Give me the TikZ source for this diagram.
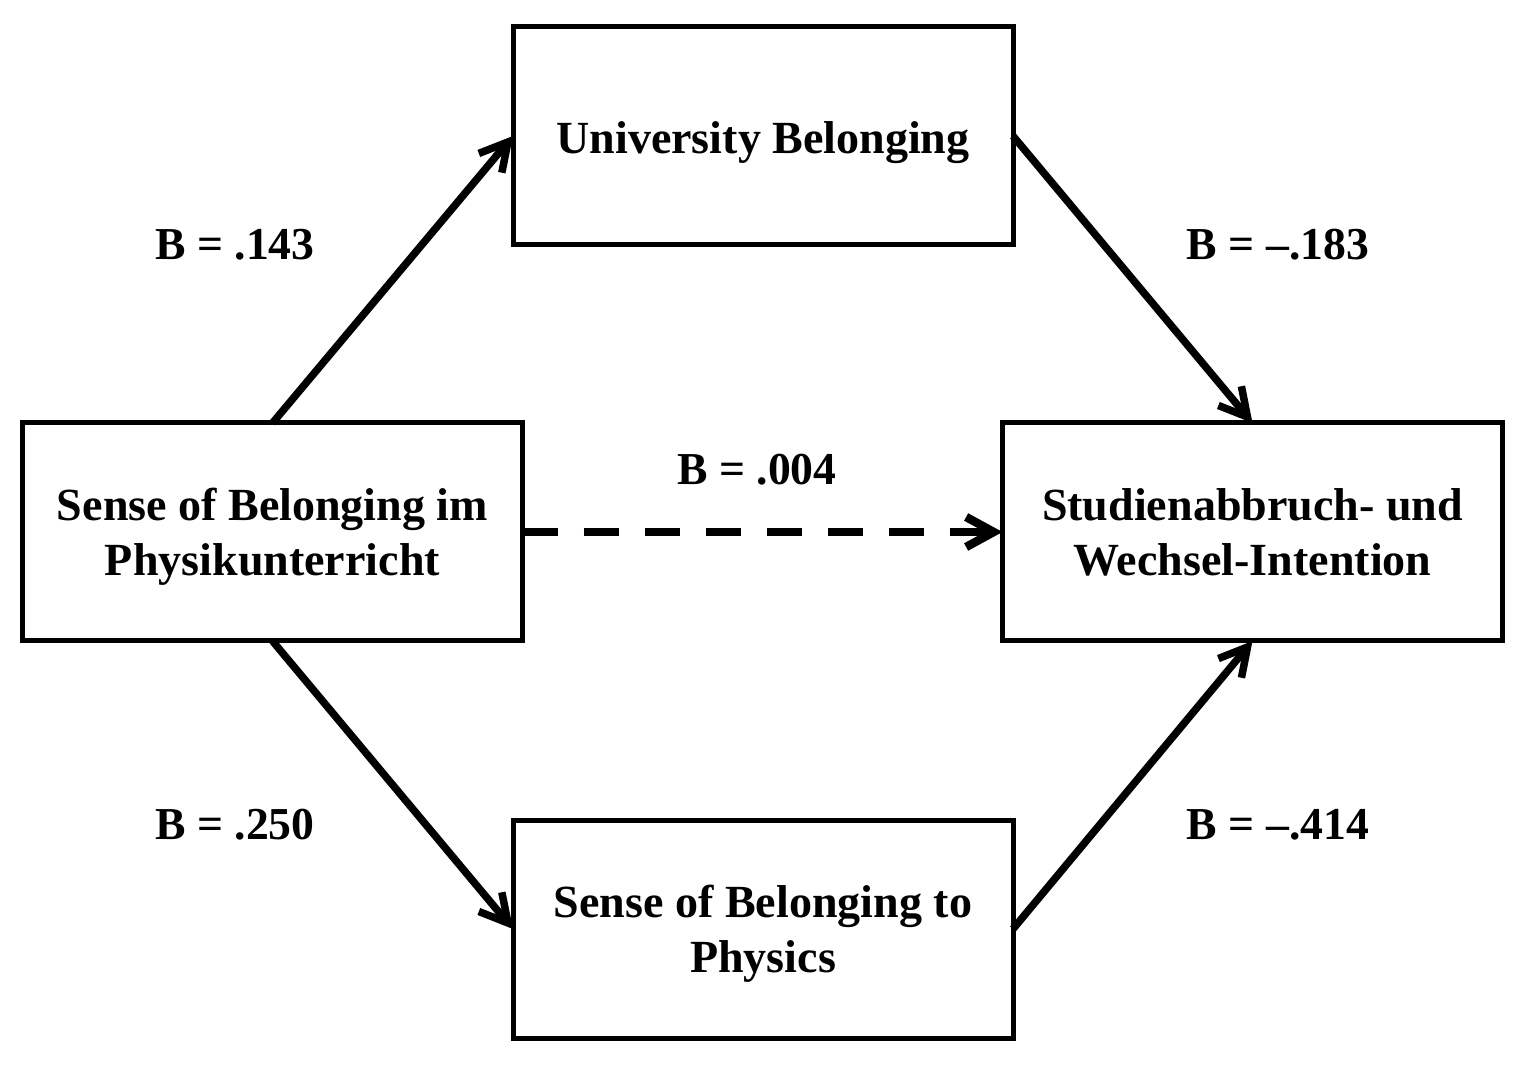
\documentclass[tikz,border=0pt]{standalone}
\usepackage{fontspec}
\setmainfont{Liberation Serif}
\usetikzlibrary{arrows.meta,positioning}
\tikzset{
 var/.style
  = {rectangle, draw, line width=0.1cm, minimum width=10cm, minimum height=4.36cm,
     text centered, align=center, inner sep=0pt, outer sep=0pt, text depth=0pt,
     font=\fontsize{26.2}{31}\selectfont\bfseries},
 coef/.style
  = {font=\fontsize{26}{31}\selectfont\bfseries},
 path/.style
  = {draw, line width=0.15cm, -{Straight Barb[length=0.55cm, width=0.6cm]}},
 direct/.style
  = {path, line width=0.17cm, dash pattern=on 0.7cm off 0.52cm},
}
\begin{document}
\begin{tikzpicture}

\useasboundingbox (0,0) rectangle (30.58,21.56);

% Predictor
\node[var] (sob) at (5.45,10.92) {Sense of Belonging im\\Physikunterricht};

% Mediators
\node[var, text height=0.71cm] (uni) at (15.26,18.84) {University Belonging};
\node[var] (phy) at (15.26,2.98) {Sense of Belonging to\\Physics};

% Outcome
\node[var] (drop) at (25.05,10.92) {Studienabbruch- und\\Wechsel-Intention};

% Paths
\draw[path] (sob.north) -- (uni.west);
\draw[path] (uni.east) -- (drop.north);
\draw[path] (sob.south) -- (phy.west);
\draw[path] (phy.east) -- (drop.south);
\draw[direct] (sob.east) -- (drop.west);

% Coefficients
\node[coef] (b1) at (4.7,16.66) {B = .143};
\node[coef] (b2) at (25.56,16.66) {B = –.183};
\node[coef] (b3) at (15.14,12.16) {B = .004};
\node[coef] (b4) at (4.7,5.06) {B = .250};
\node[coef] (b5) at (25.56,5.06) {B = –.414};

\end{tikzpicture}
\end{document}
